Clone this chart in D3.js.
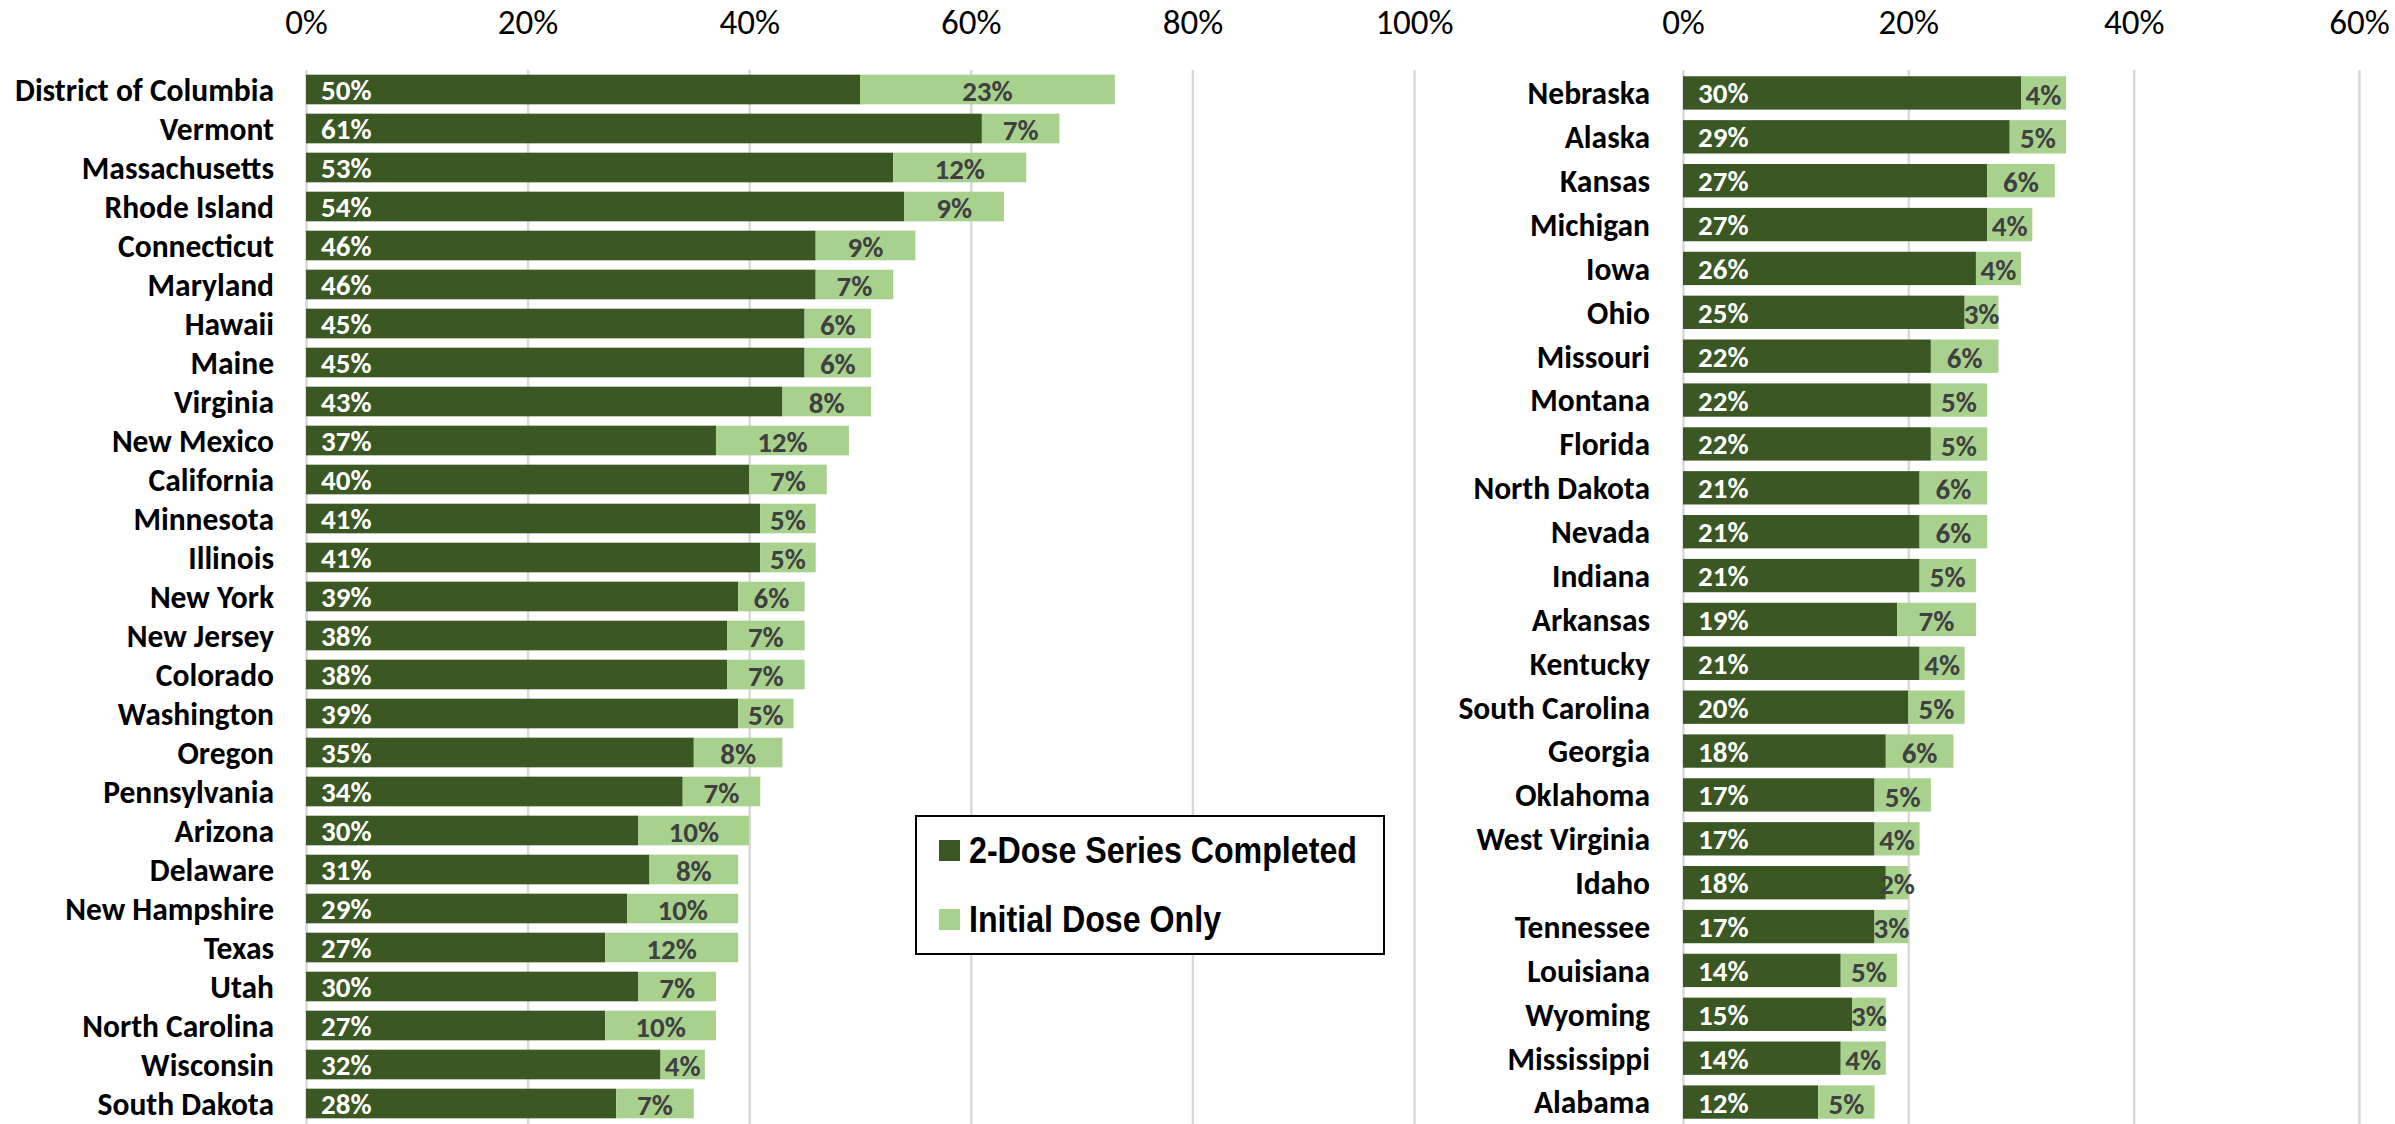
<!DOCTYPE html>
<html>
<head>
<meta charset="utf-8">
<script src="https://cdn.jsdelivr.net/npm/d3@7"></script>
<style>
  html, body { margin: 0; padding: 0; background: #fff; }
  svg { display: block; }
</style>
</head>
<body>
<div id="chart"></div>
<script>
// Data (percent of population)
const leftStates = ["District of Columbia", "Vermont", "Massachusetts", "Rhode Island", "Connecticut",
  "Maryland", "Hawaii", "Maine", "Virginia", "New Mexico", "California", "Minnesota", "Illinois",
  "New York", "New Jersey", "Colorado", "Washington", "Oregon", "Pennsylvania", "Arizona",
  "Delaware", "New Hampshire", "Texas", "Utah", "North Carolina", "Wisconsin", "South Dakota"];
const leftCompleted = [50, 61, 53, 54, 46, 46, 45, 45, 43, 37, 40, 41, 41, 39, 38, 38, 39, 35, 34, 30, 31, 29, 27, 30, 27, 32, 28];
const leftInitial = [23, 7, 12, 9, 9, 7, 6, 6, 8, 12, 7, 5, 5, 6, 7, 7, 5, 8, 7, 10, 8, 10, 12, 7, 10, 4, 7];

const rightStates = ["Nebraska", "Alaska", "Kansas", "Michigan", "Iowa", "Ohio", "Missouri", "Montana",
  "Florida", "North Dakota", "Nevada", "Indiana", "Arkansas", "Kentucky", "South Carolina", "Georgia",
  "Oklahoma", "West Virginia", "Idaho", "Tennessee", "Louisiana", "Wyoming", "Mississippi", "Alabama"];
const rightCompleted = [30, 29, 27, 27, 26, 25, 22, 22, 22, 21, 21, 21, 19, 21, 20, 18, 17, 17, 18, 17, 14, 15, 14, 12];
const rightInitial = [4, 5, 6, 4, 4, 3, 6, 5, 5, 6, 6, 5, 7, 4, 5, 6, 5, 4, 2, 3, 5, 3, 4, 5];

const leftTicks = [0, 20, 40, 60, 80, 100];
const rightTicks = [0, 20, 40, 60];

const seriesNames = ["2-Dose Series Completed", "Initial Dose Only"];
const seriesColors = ["#3a5724", "#a9d18e"];

const W = 2395, H = 1124;
const calibri = "Carlito, Calibri, Lato, sans-serif";

const svg = d3.select("#chart")
    .append("svg")
    .attr("width", W)
    .attr("height", H);

// two side-by-side panels
const panels = [
    {states: leftStates, done: leftCompleted, init: leftInitial, ticks: leftTicks,
     xRange: [306, 1414], yRange: [70, 1123], labelX: 274},
    {states: rightStates, done: rightCompleted, init: rightInitial, ticks: rightTicks,
     xRange: [1683, 2359], yRange: [71, 1124], labelX: 1650}
];

panels.forEach(p => {
    const maxTick = p.ticks[p.ticks.length - 1];
    const x = d3.scaleLinear()
        .domain([0, maxTick])
        .range(p.xRange);

    const y = d3.scaleBand()
        .domain(p.states)
        .range(p.yRange)
        .paddingInner(0.24)
        .paddingOuter(0.12);

    // gridlines
    svg.append("g")
        .attr("transform", `translate(0,70)`)
        .call(d3.axisBottom(x).tickValues(p.ticks).tickSize(H - 70).tickFormat(""))
        .call(g => g.select(".domain").remove())
        .call(g => g.selectAll("line")
            .attr("stroke", "#d9d9d9")
            .attr("stroke-width", 2.5));

    // top tick labels
    svg.append("g")
        .attr("transform", `translate(0,34)`)
        .call(d3.axisTop(x).tickValues(p.ticks).tickSize(0).tickPadding(0).tickFormat(d => d + "%"))
        .call(g => g.select(".domain").remove())
        .call(g => g.selectAll("text")
            .attr("fill", "#000")
            .style("font-family", calibri)
            .style("font-size", "35px"));

    // state labels
    svg.append("g")
        .selectAll("text")
        .data(p.states)
        .join("text")
        .attr("x", p.labelX)
        .attr("y", d => y(d) + y.bandwidth() / 2)
        .attr("dy", "0.36em")
        .attr("text-anchor", "end")
        .style("font-family", calibri)
        .style("font-weight", "bold")
        .style("font-size", "31.5px")
        .attr("fill", "#000")
        .text(d => d);

    const rows = p.states.map((s, i) => ({state: s, done: p.done[i], init: p.init[i]}));

    // completed segment
    svg.append("g")
        .selectAll("rect")
        .data(rows)
        .join("rect")
        .attr("x", x(0))
        .attr("y", d => y(d.state))
        .attr("width", d => x(d.done) - x(0))
        .attr("height", y.bandwidth())
        .attr("fill", seriesColors[0]);

    // initial-only segment
    svg.append("g")
        .selectAll("rect")
        .data(rows)
        .join("rect")
        .attr("x", d => x(d.done))
        .attr("y", d => y(d.state))
        .attr("width", d => x(d.done + d.init) - x(d.done))
        .attr("height", y.bandwidth())
        .attr("fill", seriesColors[1]);

    // value labels
    svg.append("g")
        .selectAll("text")
        .data(rows)
        .join("text")
        .attr("x", x(0) + 15)
        .attr("y", d => y(d.state) + y.bandwidth() / 2)
        .attr("dy", "0.36em")
        .style("font-family", calibri)
        .style("font-weight", "bold")
        .style("font-size", "29px")
        .attr("fill", "#fff")
        .text(d => d.done + "%");

    svg.append("g")
        .selectAll("text")
        .data(rows)
        .join("text")
        .attr("x", d => (x(d.done) + x(d.done + d.init)) / 2)
        .attr("y", d => y(d.state) + y.bandwidth() / 2)
        .attr("dy", "0.4em")
        .attr("text-anchor", "middle")
        .style("font-family", calibri)
        .style("font-weight", "bold")
        .style("font-size", "29px")
        .attr("fill", "#404040")
        .text(d => d.init + "%");
});

// legend
const legend = svg.append("g")
    .attr("transform", "translate(916,816)");

legend.append("rect")
    .attr("width", 468)
    .attr("height", 138)
    .attr("fill", "#fff")
    .attr("stroke", "#000")
    .attr("stroke-width", 2);

seriesNames.forEach((name, i) => {
    const row = legend.append("g")
        .attr("transform", `translate(23,${34 + i * 69})`);
    row.append("rect")
        .attr("y", -10)
        .attr("width", 21)
        .attr("height", 21)
        .attr("fill", seriesColors[i]);
    // narrow bold face: squeeze the regular bold sans horizontally
    row.append("text")
        .attr("transform", "translate(30,0) scale(0.87,1)")
        .attr("dy", "0.36em")
        .style("font-family", "'Liberation Sans', Arial, sans-serif")
        .style("font-weight", "bold")
        .style("font-size", "37px")
        .attr("fill", "#000")
        .text(name);
});
</script>
</body>
</html>
